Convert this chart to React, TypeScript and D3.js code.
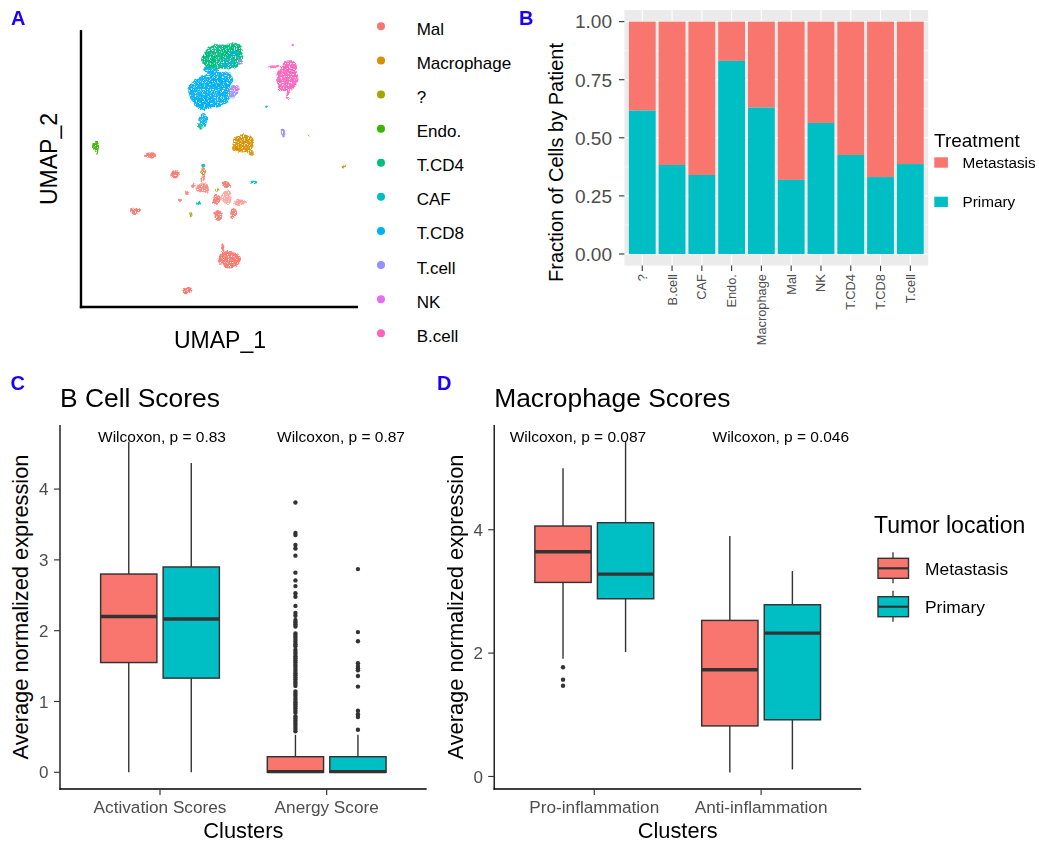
import React from 'react';
import * as d3 from 'd3';

const FONT = '"Liberation Sans", Arial, Helvetica, sans-serif';
const SALMON = '#F8766D';
const TEAL = '#00BFC4';
const DARK = '#333333';
const TICK_TXT = '#4D4D4D';

// ---------------- Panel A : UMAP ----------------
const cellTypes = ['Mal', 'Macrophage', '?', 'Endo.', 'T.CD4', 'CAF', 'T.CD8', 'T.cell', 'NK', 'B.cell'];
const cellColors = ['#F8766D', '#D89000', '#A3A500', '#39B600', '#00BF7D', '#00BFC4', '#00B0F6', '#9590FF', '#E76BF3', '#FF62BC'];
// cluster blobs: [cell type, UMAP_1, UMAP_2, radius1, radius2, opacity]
const umapBlobs: [string, number, number, number, number, number][] = [
  ['T.CD8', 2.9, 7.53, 2.17, 1.67, 0.95],
  ['T.CD8', 3.9, 8.7, 1.33, 0.83, 0.95],
  ['T.CD8', 2.23, 6.37, 1.0, 0.67, 0.95],
  ['T.CD8', 2.23, 4.7, 0.4, 0.6, 0.95],
  ['T.CD8', 2.9, 9.7, 0.8, 0.4, 0.95],
  ['T.CD8', 8.57, 6.03, 0.14, 0.12, 0.9],
  ['T.CD4', 4.23, 11.03, 2.0, 1.33, 0.95],
  ['T.CD4', 2.9, 10.7, 0.8, 0.8, 0.95],
  ['T.CD4', 5.07, 11.7, 1.0, 0.67, 0.95],
  ['T.CD4', 1.83, 4.1, 0.22, 0.28, 0.9],
  ['T.CD8', 4.57, 10.37, 0.8, 0.5, 0.55],
  ['T.CD8', 5.3, 11.3, 0.5, 0.4, 0.5],
  ['T.cell', 5.23, 7.53, 0.5, 0.67, 0.9],
  ['T.cell', 5.9, 10.53, 0.3, 0.3, 0.85],
  ['T.cell', 10.23, 3.43, 0.3, 0.4, 0.95],
  ['NK', 5.57, 7.9, 0.3, 0.3, 0.75],
  ['NK', 11.23, 12.2, 0.17, 0.17, 0.9],
  ['B.cell', 10.57, 8.87, 1.07, 1.33, 0.95],
  ['B.cell', 10.9, 10.03, 0.67, 0.67, 0.95],
  ['B.cell', 10.73, 7.2, 0.17, 0.5, 0.9],
  ['B.cell', 9.23, 10.03, 0.5, 0.15, 0.85],
  ['Macrophage', 6.23, 2.37, 1.07, 0.93, 0.95],
  ['Macrophage', 7.07, 1.53, 0.3, 0.3, 0.9],
  ['Macrophage', 5.4, 1.87, 0.3, 0.3, 0.9],
  ['Macrophage', 16.23, 0.03, 0.17, 0.17, 0.9],
  ['Macrophage', 12.73, 3.03, 0.12, 0.12, 0.9],
  ['Endo.', -8.5, 2.03, 0.3, 0.6, 0.95],
  ['Mal', -3.1, 1.2, 0.6, 0.27, 0.95],
  ['Mal', -0.6, -0.73, 0.5, 0.4, 0.95],
  ['Mal', 2.23, -0.7, 0.2, 0.9, 0.85],
  ['Mal', -0.1, -3.3, 0.2, 0.2, 0.85],
  ['Mal', 0.6, -2.6, 0.2, 0.2, 0.85],
  ['Mal', 1.2, -1.9, 0.2, 0.2, 0.85],
  ['Mal', 2.23, -2.13, 0.67, 0.5, 0.8],
  ['Mal', 4.5, -1.8, 0.5, 0.4, 0.95],
  ['Mal', 3.57, -3.3, 0.5, 0.5, 0.9],
  ['Mal', 3.73, -4.8, 0.4, 0.5, 0.9],
  ['Mal', 5.23, -4.63, 0.4, 0.5, 0.9],
  ['Mal', 5.9, -3.53, 0.67, 0.27, 0.7],
  ['Mal', 4.57, -3.03, 0.5, 0.67, 0.6],
  ['Mal', -4.6, -4.37, 0.5, 0.33, 0.95],
  ['Mal', 4.83, -9.23, 1.17, 0.83, 0.95],
  ['Mal', 4.17, -8.13, 0.17, 0.5, 0.9],
  ['Mal', 0.63, -12.3, 0.5, 0.33, 0.95],
  ['CAF', 7.23, -1.53, 0.4, 0.17, 0.95],
  ['CAF', 1.73, -3.57, 0.22, 0.22, 0.95],
  ['CAF', 2.23, 0.2, 0.22, 0.22, 0.95],
  ['?', 0.97, -4.7, 0.17, 0.3, 0.95],
  ['?', 3.57, -2.3, 0.17, 0.17, 0.95],
  ['?', 2.07, -0.63, 0.17, 0.17, 0.95],
];

// ---------------- Panel B : fractions ----------------
const bCats = ['?', 'B.cell', 'CAF', 'Endo.', 'Macrophage', 'Mal', 'NK', 'T.CD4', 'T.CD8', 'T.cell'];
const bPrimary = [0.617, 0.383, 0.34, 0.831, 0.63, 0.319, 0.564, 0.426, 0.331, 0.387];
const bTicks = [0, 0.25, 0.5, 0.75, 1];
const bMinor = [0.125, 0.375, 0.625, 0.875];
const treatments = ['Metastasis', 'Primary'];

// ---------------- Panel C : B cell scores ----------------
type Box = { lo: number; q1: number; med: number; q3: number; hi: number };
const cCats = ['Activation Scores', 'Anergy Score'];
const cMet: Box[] = [
  { lo: 0, q1: 1.55, med: 2.2, q3: 2.8, hi: 4.67 },
  { lo: 0, q1: 0, med: 0.01, q3: 0.22, hi: 0.53 },
];
const cPri: Box[] = [
  { lo: 0, q1: 1.33, med: 2.165, q3: 2.9, hi: 4.37 },
  { lo: 0, q1: 0, med: 0.01, q3: 0.22, hi: 0.53 },
];
const cOutMetAnergy = [3.81, 3.38, 3.35, 3.21, 3.16, 3.06, 2.82, 2.71, 2.63, 2.53, 2.48, 2.35, 2.25, 2.21, 2.15, 2.12,
  2.09, 2.06, 1.96, 1.93, 1.9, 1.87, 1.84, 1.81, 1.78, 1.73, 1.7, 1.67, 1.64, 1.61, 1.58, 1.55, 1.52, 1.49, 1.46, 1.43,
  1.4, 1.37, 1.34, 1.31, 1.28, 1.25, 1.22, 1.14, 1.11, 1.08, 1.05, 1.02, 0.99, 0.96, 0.93, 0.9, 0.87, 0.84, 0.79, 0.76,
  0.73, 0.7, 0.67, 0.64, 0.61, 0.58];
const cOutPriAnergy = [2.87, 1.98, 1.85, 1.54, 1.5, 1.47, 1.44, 1.36, 1.21, 0.87, 0.82, 0.78, 0.6];
const cTicks = [0, 1, 2, 3, 4];
const cPLabels = ['Wilcoxon, p = 0.83', 'Wilcoxon, p = 0.87'];
const cPLabelX = [1.012, 2.086];
const cPLabelY = 4.67;

// ---------------- Panel D : Macrophage scores ----------------
const dCats = ['Pro-inflammation', 'Anti-inflammation'];
const dMet: Box[] = [
  { lo: 1.91, q1: 3.146, med: 3.643, q3: 4.06, hi: 4.995 },
  { lo: 0.065, q1: 0.82, med: 1.73, q3: 2.53, hi: 3.897 },
];
const dPri: Box[] = [
  { lo: 2.016, q1: 2.881, med: 3.281, q3: 4.114, hi: 5.438 },
  { lo: 0.114, q1: 0.919, med: 2.324, q3: 2.784, hi: 3.33 },
];
const dOutMetPro = [1.77, 1.57, 1.47];
const dTicks = [0, 2, 4];
const dPLabels = ['Wilcoxon, p = 0.087', 'Wilcoxon, p = 0.046'];
const dPLabelX = [0.902, 2.118];
const dPLabelY = 5.43;

function PanelA() {
  const x = d3.scaleLinear().domain([-10, 17.7]).range([81, 358]);
  const y = d3.scaleLinear().domain([-14, 13.7]).range([307, 30]);
  const color = d3.scaleOrdinal<string, string>().domain(cellTypes).range(cellColors);
  const legY = d3.scaleLinear().domain([0, 9]).range([26.3, 333.3]);
  return (
    <g>
      <defs>
        <filter id="speckle" x="-30%" y="-30%" width="160%" height="160%">
          <feTurbulence type="fractalNoise" baseFrequency="0.12" numOctaves="2" seed="7" result="warp" />
          <feDisplacementMap in="SourceGraphic" in2="warp" scale="5" xChannelSelector="R" yChannelSelector="G" result="shaped" />
          <feTurbulence type="fractalNoise" baseFrequency="0.85" numOctaves="1" seed="3" result="noise" />
          <feColorMatrix in="noise" type="matrix"
            values="0 0 0 0 0  0 0 0 0 0  0 0 0 0 0  8 0 0 0 -2.5" result="mask" />
          <feComposite in="shaped" in2="mask" operator="in" />
        </filter>
      </defs>
      <g filter="url(#speckle)">
        {umapBlobs.map(([t, u1, u2, r1, r2, op], i) => (
          <ellipse key={i} cx={x(u1)} cy={y(u2)} rx={x(u1 + r1) - x(u1)} ry={y(u2) - y(u2 + r2)}
            fill={color(t)} opacity={op} />
        ))}
      </g>
      <line x1={81} x2={81} y1={30} y2={308.2} stroke="#000" strokeWidth={2.4} />
      <line x1={79.8} x2={358} y1={307} y2={307} stroke="#000" strokeWidth={2.4} />
      <text x={220} y={348.3} textAnchor="middle" fontSize={23}>UMAP_1</text>
      <text transform="translate(56.5,159) rotate(-90)" textAnchor="middle" fontSize={23}>UMAP_2</text>
      {cellTypes.map((t, i) => (
        <g key={t}>
          <circle cx={381} cy={legY(i)} r={4} fill={color(t)} />
          <text x={416.7} y={legY(i) + 8.5} fontSize={17}>{t}</text>
        </g>
      ))}
    </g>
  );
}

function PanelB() {
  const x = d3.scaleBand<string>().domain(bCats).range([624.4, 928.2]).paddingInner(0.1).paddingOuter(0.15);
  const y = d3.scaleLinear().domain([-0.05, 1.05]).range([265.6, 10]);
  const [x0, x1] = x.range();
  const [yb, yt] = y.range();
  const cx = (c: string) => (x(c) as number) + x.bandwidth() / 2;
  return (
    <g>
      <rect x={x0} y={yt} width={x1 - x0} height={yb - yt} fill="#EBEBEB" />
      {bMinor.map((v) => <line key={'m' + v} x1={x0} x2={x1} y1={y(v)} y2={y(v)} stroke="#fff" strokeWidth={0.55} />)}
      {bTicks.map((v) => <line key={'M' + v} x1={x0} x2={x1} y1={y(v)} y2={y(v)} stroke="#fff" strokeWidth={1.1} />)}
      {bCats.map((c) => <line key={'v' + c} x1={cx(c)} x2={cx(c)} y1={yt} y2={yb} stroke="#fff" strokeWidth={1.1} />)}
      {bCats.map((c, i) => (
        <g key={c}>
          <rect x={x(c)} width={x.bandwidth()} y={y(1)} height={y(bPrimary[i]) - y(1)} fill={SALMON} />
          <rect x={x(c)} width={x.bandwidth()} y={y(bPrimary[i])} height={y(0) - y(bPrimary[i])} fill={TEAL} />
        </g>
      ))}
      {bTicks.map((v) => (
        <g key={'t' + v}>
          <line x1={x0 - 5.5} x2={x0} y1={y(v)} y2={y(v)} stroke={DARK} strokeWidth={1.1} />
          <text x={612} y={y(v)} dy="0.36em" textAnchor="end" fontSize={19} fill={TICK_TXT}>{v.toFixed(2)}</text>
        </g>
      ))}
      {bCats.map((c) => (
        <g key={'xt' + c}>
          <line x1={cx(c)} x2={cx(c)} y1={yb} y2={yb + 5.5} stroke={DARK} strokeWidth={1.1} />
          <text transform={`translate(${cx(c)},${yb + 8.5}) rotate(-90)`} dy="0.35em" textAnchor="end"
            fontSize={12.8} fill={TICK_TXT}>{c}</text>
        </g>
      ))}
      <text transform="translate(563,162.5) rotate(-90)" textAnchor="middle" fontSize={20}>Fraction of Cells by Patient</text>
      <text x={934} y={146.5} fontSize={19}>Treatment</text>
      {treatments.map((t, i) => (
        <g key={t}>
          <rect x={934.3} y={157.3 + i * 39.4} width={13.6} height={10.4} fill={i === 0 ? SALMON : TEAL} />
          <text x={962.5} y={167.5 + i * 39.4} fontSize={15.3}>{t}</text>
        </g>
      ))}
    </g>
  );
}

type BoxPanelProps = {
  left: number; right: number; top: number; bottom: number;
  yDomain: [number, number]; ticks: number[]; cats: string[];
  met: Box[]; pri: Box[]; outMet: number[][]; outPri: number[][];
  pLabels: string[]; pX: number[]; pY: number; title: string; tickRight: number; yTitleX: number;
};

function BoxPanel(p: BoxPanelProps) {
  const x = d3.scaleBand<string>().domain(p.cats).range([p.left, p.right]).paddingInner(0).paddingOuter(0.1);
  const y = d3.scaleLinear().domain(p.yDomain).range([p.bottom, p.top]);
  const step = x.step();
  const cx = (c: string) => (x(c) as number) + x.bandwidth() / 2;
  const xCont = d3.scaleLinear().domain([1, 2]).range([cx(p.cats[0]), cx(p.cats[1])]);
  const bw = 0.3375 * step;
  const drawBox = (b: Box, xc: number, fill: string, key: string, outs: number[]) => (
    <g key={key}>
      <line x1={xc} x2={xc} y1={y(b.hi)} y2={y(b.q3)} stroke={DARK} strokeWidth={1.4} />
      <line x1={xc} x2={xc} y1={y(b.q1)} y2={y(b.lo)} stroke={DARK} strokeWidth={1.4} />
      <rect x={xc - bw / 2} width={bw} y={y(b.q3)} height={y(b.q1) - y(b.q3)} fill={fill} stroke={DARK} strokeWidth={1.45} />
      <line x1={xc - bw / 2} x2={xc + bw / 2} y1={y(b.med)} y2={y(b.med)} stroke={DARK} strokeWidth={3.4} />
      {outs.map((v, i) => <circle key={i} cx={xc} cy={y(v)} r={2.2} fill={DARK} />)}
    </g>
  );
  return (
    <g>
      <text x={p.left} y={406.6} fontSize={26.4}>{p.title}</text>
      {p.cats.map((c, i) => (
        <g key={c}>
          {drawBox(p.met[i], cx(c) - 0.1875 * step, SALMON, 'm', p.outMet[i])}
          {drawBox(p.pri[i], cx(c) + 0.1875 * step, TEAL, 'p', p.outPri[i])}
        </g>
      ))}
      {p.pLabels.map((t, i) => (
        <text key={t} x={xCont(p.pX[i])} y={y(p.pY)} textAnchor="middle" fontSize={15.5}>{t}</text>
      ))}
      <line x1={p.left} x2={p.left} y1={p.top} y2={p.bottom + 0.65} stroke="#000" strokeWidth={1.3} />
      <line x1={p.left - 0.65} x2={p.right} y1={p.bottom} y2={p.bottom} stroke="#000" strokeWidth={1.3} />
      {p.ticks.map((v) => (
        <g key={v}>
          <line x1={p.left - 6} x2={p.left} y1={y(v)} y2={y(v)} stroke={DARK} strokeWidth={1.15} />
          <text x={p.tickRight} y={y(v)} dy="0.36em" textAnchor="end" fontSize={17} fill={TICK_TXT}>{v}</text>
        </g>
      ))}
      {p.cats.map((c) => (
        <g key={'x' + c}>
          <line x1={cx(c)} x2={cx(c)} y1={p.bottom} y2={p.bottom + 6} stroke={DARK} strokeWidth={1.15} />
          <text x={cx(c)} y={812.8} textAnchor="middle" fontSize={17.2} fill={TICK_TXT}>{c}</text>
        </g>
      ))}
      <text x={(p.left + p.right) / 2} y={838} textAnchor="middle" fontSize={21.8}>Clusters</text>
      <text transform={`translate(${p.yTitleX},607) rotate(-90)`} textAnchor="middle" fontSize={21.8}>Average normalized expression</text>
    </g>
  );
}

function LegendD() {
  const keyY = d3.scaleLinear().domain([0, 1]).range([568.3, 606.7]);
  return (
    <g>
      <text x={874} y={533.3} fontSize={23}>Tumor location</text>
      {treatments.map((t, i) => {
        const cy = keyY(i);
        return (
          <g key={t}>
            <line x1={893} x2={893} y1={cy - 16} y2={cy + 15} stroke={DARK} strokeWidth={1.3} />
            <rect x={878} y={cy - 10} width={30.5} height={20} fill={i === 0 ? SALMON : TEAL} stroke={DARK} strokeWidth={1.4} />
            <line x1={878} x2={908.5} y1={cy} y2={cy} stroke={DARK} strokeWidth={2.2} />
            <text x={925} y={cy + 6.5} fontSize={17.4}>{t}</text>
          </g>
        );
      })}
    </g>
  );
}

const panelLetters = ['A', 'B', 'C', 'D'];
const letterX = [11, 519, 10.5, 437];
const letterY = [25, 24.5, 390, 390];

export default function App() {
  return (
    <svg width={1039} height={846} style={{ position: 'absolute', left: 0, top: 0 }} fontFamily={FONT}>
      <rect width={1039} height={846} fill="#fff" />
      <PanelA />
      <PanelB />
      <BoxPanel left={60} right={426.7} top={425} bottom={789} yDomain={[-0.236, 4.905]} ticks={cTicks}
        cats={cCats} met={cMet} pri={cPri} outMet={[[], cOutMetAnergy]} outPri={[[], cOutPriAnergy]}
        pLabels={cPLabels} pX={cPLabelX} pY={cPLabelY} title="B Cell Scores" tickRight={48.5} yTitleX={28.3} />
      <BoxPanel left={494.2} right={861.2} top={425} bottom={789} yDomain={[-0.203, 5.698]} ticks={dTicks}
        cats={dCats} met={dMet} pri={dPri} outMet={[dOutMetPro, []]} outPri={[[], []]}
        pLabels={dPLabels} pX={dPLabelX} pY={dPLabelY} title="Macrophage Scores" tickRight={483} yTitleX={463} />
      <LegendD />
      {panelLetters.map((l, i) => (
        <text key={l} x={letterX[i]} y={letterY[i]} fontSize={20} fontWeight="bold" fill="#1A00FF">{l}</text>
      ))}
    </svg>
  );
}
